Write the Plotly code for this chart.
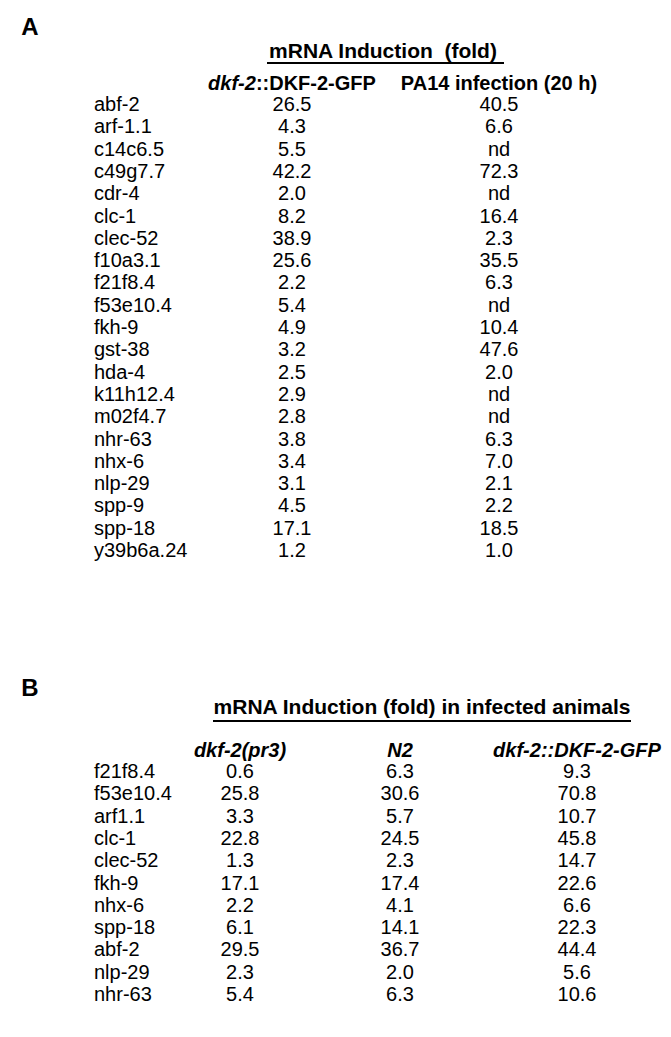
import plotly.graph_objects as go

# ---------------- data ----------------
genes_a = ["abf-2", "arf-1.1", "c14c6.5", "c49g7.7", "cdr-4", "clc-1", "clec-52",
           "f10a3.1", "f21f8.4", "f53e10.4", "fkh-9", "gst-38", "hda-4", "k11h12.4",
           "m02f4.7", "nhr-63", "nhx-6", "nlp-29", "spp-9", "spp-18", "y39b6a.24"]
dkf2_gfp_a = [26.5, 4.3, 5.5, 42.2, 2.0, 8.2, 38.9, 25.6, 2.2, 5.4, 4.9, 3.2, 2.5,
              2.9, 2.8, 3.8, 3.4, 3.1, 4.5, 17.1, 1.2]
pa14_a = [40.5, 6.6, None, 72.3, None, 16.4, 2.3, 35.5, 6.3, None, 10.4, 47.6, 2.0,
          None, None, 6.3, 7.0, 2.1, 2.2, 18.5, 1.0]
headers_a = ["<i>dkf-2</i>::DKF-2-GFP", "PA14 infection (20 h)"]
title_a = "mRNA Induction\u00a0\u00a0(fold)"

genes_b = ["f21f8.4", "f53e10.4", "arf1.1", "clc-1", "clec-52", "fkh-9", "nhx-6",
           "spp-18", "abf-2", "nlp-29", "nhr-63"]
pr3_b = [0.6, 25.8, 3.3, 22.8, 1.3, 17.1, 2.2, 6.1, 29.5, 2.3, 5.4]
n2_b = [6.3, 30.6, 5.7, 24.5, 2.3, 17.4, 4.1, 14.1, 36.7, 2.0, 6.3]
gfp_b = [9.3, 70.8, 10.7, 45.8, 14.7, 22.6, 6.6, 22.3, 44.4, 5.6, 10.6]
headers_b = ["dkf-2(pr3)", "N2", "dkf-2::DKF-2-GFP"]
title_b = "mRNA Induction (fold) in infected animals"

# ---------------- layout constants ----------------
W, H = 671, 1037
FONT = "Liberation Sans, Arial, sans-serif"
FS = 20
LABEL_X = 86

A_ROW0, A_DY = 98, 22.3
A_COLS = [284, 491]
A_HEAD_Y, A_TITLE_Y = 77, 45

B_ROW0, B_DY = 765, 22.3
B_COLS = [232, 392, 569]
B_HEAD_Y, B_TITLE_Y = 744, 701


def fmt(v):
    return "nd" if v is None else f"{v:.1f}"


def rows(y0, dy, n):
    return [y0 + i * dy for i in range(n)]


fig = go.Figure()


def add_text(xs, ys, texts, pos="middle center", size=FS, bold=False, italic=False):
    t = texts
    if bold:
        t = [f"<b>{s}</b>" for s in t]
    if italic:
        t = [f"<i>{s}</i>" for s in t]
    fig.add_trace(go.Scatter(
        x=xs, y=ys, text=t, mode="text", textposition=pos,
        textfont=dict(family=FONT, size=size, color="black"),
        hoverinfo="skip", showlegend=False))


# Panel A
ya = rows(A_ROW0, A_DY, len(genes_a))
add_text([LABEL_X] * len(genes_a), ya, genes_a, pos="middle right")
add_text([A_COLS[0]] * len(ya), ya, [fmt(v) for v in dkf2_gfp_a])
add_text([A_COLS[1]] * len(ya), ya, [fmt(v) for v in pa14_a])
add_text(A_COLS, [A_HEAD_Y] * 2, headers_a, bold=True)
add_text([375], [A_TITLE_Y], [title_a], size=21, bold=True)
add_text([22], [21], ["A"], size=24, bold=True)

# Panel B
yb = rows(B_ROW0, B_DY, len(genes_b))
add_text([LABEL_X] * len(genes_b), yb, genes_b, pos="middle right")
for cx, vals in zip(B_COLS, [pr3_b, n2_b, gfp_b]):
    add_text([cx] * len(yb), yb, [fmt(v) for v in vals])
add_text(B_COLS, [B_HEAD_Y] * 3, headers_b, bold=True, italic=True)
add_text([414], [B_TITLE_Y], [title_b], size=21, bold=True)
add_text([22], [682], ["B"], size=24, bold=True)

# underlines
fig.add_shape(type="line", x0=259, x1=496, y0=55, y1=55, xref="x", yref="y",
              line=dict(color="black", width=2))
fig.add_shape(type="line", x0=205, x1=623, y0=713, y1=713, xref="x", yref="y",
              line=dict(color="black", width=2))

fig.update_layout(
    width=W, height=H,
    margin=dict(l=0, r=0, t=0, b=0),
    paper_bgcolor="white", plot_bgcolor="white",
    xaxis=dict(range=[0, W], visible=False, fixedrange=True),
    yaxis=dict(range=[H, 0], visible=False, fixedrange=True),
)

fig.write_html("out.html")
